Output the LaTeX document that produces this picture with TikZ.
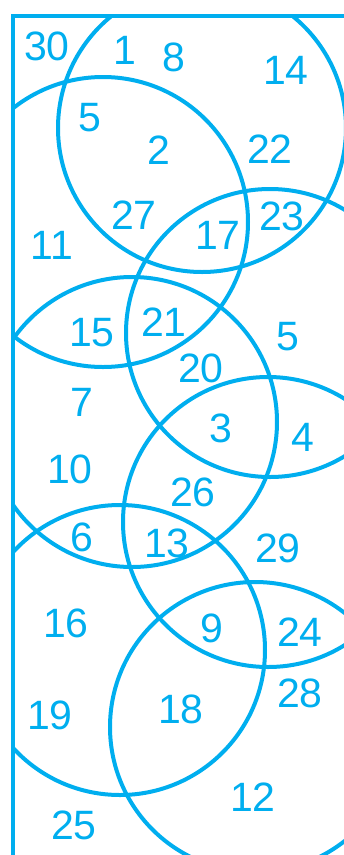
\documentclass[tikz,border=0pt]{standalone}
\usepackage{fontspec}
\setmainfont{Liberation Sans}
\definecolor{setblue}{RGB}{0,174,239}
\begin{document}
\begin{tikzpicture}[x=1pt, y=-1pt, line width=4pt,
  num/.style={text=setblue, font=\fontsize{41}{41}\selectfont, inner sep=0pt}]
  \useasboundingbox (0,0) rectangle (344,855);
  % sets, clipped to the frame
  \begin{scope}
    \clip (13,16) rectangle (344,855);
    \draw[setblue] (202,128) circle (144pt);
    \draw[setblue] (103,222) circle (145pt);
    \draw[setblue] (270,333) circle (144pt);
    \draw[setblue] (132,422) circle (145pt);
    \draw[setblue] (268,522) circle (145pt);
    \draw[setblue] (120,650) circle (145pt);
    \draw[setblue] (255,727) circle (145pt);
  \end{scope}
  % frame
  \draw[setblue, line width=4.6pt] (13,855) -- (13,16) -- (344,16);
  % top part
  \node[num] (n30) at (47,46) {30};
  \node[num] (n1) at (125,50) {1};
  \node[num] (n8) at (174,57) {8};
  \node[num] (n14) at (286,70) {14};
  \node[num] (n5a) at (90,118) {5};
  \node[num] (n2) at (159,150) {2};
  \node[num] (n22) at (270,149) {22};
  \node[num] (n27) at (134,215) {27};
  \node[num] (n23) at (282,216) {23};
  \node[num] (n17) at (218,235) {17};
  \node[num] (n11) at (52,245) {11};
  % middle part
  \node[num] (n15) at (92,333) {15};
  \node[num] (n21) at (164,322) {21};
  \node[num] (n20) at (201,368) {20};
  \node[num] (n5b) at (288,337) {5};
  \node[num] (n7) at (82,402) {7};
  \node[num] (n3) at (221,428) {3};
  \node[num] (n4) at (303,437) {4};
  \node[num] (n10) at (70,469) {10};
  \node[num] (n26) at (193,492) {26};
  \node[num] (n6) at (82,537) {6};
  \node[num] (n13) at (167,543) {13};
  \node[num] (n29) at (278,548) {29};
  % bottom part
  \node[num] (n16) at (66,623) {16};
  \node[num] (n9) at (212,628) {9};
  \node[num] (n24) at (300,632) {24};
  \node[num] (n28) at (300,693) {28};
  \node[num] (n19) at (50,715) {19};
  \node[num] (n18) at (181,709) {18};
  \node[num] (n12) at (253,797) {12};
  \node[num] (n25) at (74,825) {25};
\end{tikzpicture}
\end{document}
